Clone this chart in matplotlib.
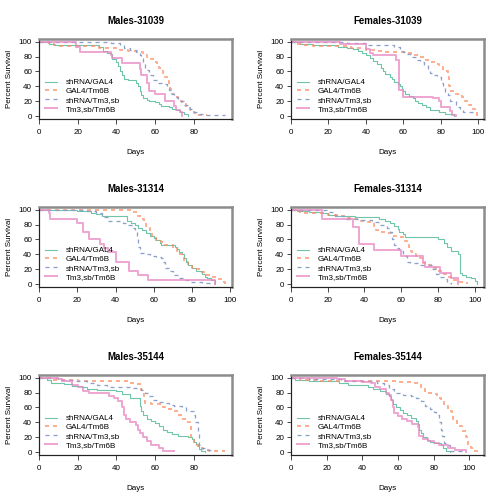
import matplotlib
matplotlib.use("Agg")
import matplotlib.pyplot as plt

plt.rcParams["font.family"] = ["Liberation Sans", "DejaVu Sans"]
plt.rcParams["lines.scale_dashes"] = False

# (day, percent survival after that day) for each curve
males_31039_shrna_gal4 = [(0, 100), (5, 97), (8, 95), (31, 93), (33, 88), (35, 85), (37, 83), (38, 77), (40, 73),
                          (41, 67), (42, 60), (43, 55), (44, 50), (46, 48), (50, 44), (51, 40), (52, 33), (53, 28),
                          (54, 24), (56, 21), (57, 20), (60, 19), (62, 16), (63, 14), (67, 12), (69, 10), (71, 8),
                          (73, 6), (75, 3), (77, 0)]
males_31039_gal4_tm6b = [(0, 100), (5, 97), (8, 95), (10, 94), (31, 92), (36, 91), (42, 89), (46, 88), (52, 86),
                         (54, 82), (56, 80), (58, 77), (60, 72), (61, 68), (62, 64), (64, 58), (65, 52), (66, 47),
                         (67, 40), (68, 36), (69, 30), (70, 26), (72, 20), (74, 16), (76, 12), (78, 8), (80, 4),
                         (81, 2), (87, 2)]
males_31039_shrna_tm3 = [(0, 100), (30, 99), (37, 98), (42, 95), (44, 92), (47, 89), (50, 86), (52, 82), (53, 78),
                         (54, 70), (55, 62), (57, 55), (59, 48), (61, 44), (64, 43), (66, 40), (67, 35), (69, 30),
                         (70, 25), (72, 20), (75, 15), (78, 10), (80, 5), (82, 3), (86, 1), (96, 1)]
males_31039_tm3_tm6b = [(0, 100), (19, 93), (21, 86), (37, 82), (38, 78), (43, 71), (52, 63), (53, 55), (56, 45),
                        (57, 33), (60, 29), (65, 20), (70, 14), (71, 8), (73, 5), (74, 0)]

females_31039_shrna_gal4 = [(0, 100), (5, 97), (12, 96), (20, 95), (25, 93), (30, 91), (33, 90), (36, 88), (38, 85),
                            (40, 82), (42, 78), (44, 74), (46, 70), (48, 65), (49, 60), (50, 56), (53, 53), (54, 50),
                            (55, 46), (57, 43), (58, 40), (59, 36), (60, 34), (61, 30), (63, 27), (65, 24), (66, 20),
                            (68, 17), (70, 15), (72, 12), (74, 8), (79, 5), (82, 3), (87, 0)]
females_31039_gal4_tm6b = [(0, 100), (3, 97), (7, 95), (12, 94), (32, 91), (40, 89), (45, 87), (50, 86), (62, 85),
                           (65, 82), (68, 79), (71, 76), (74, 72), (77, 70), (79, 68), (80, 66), (81, 60), (84, 52),
                           (84.5, 40), (85, 33), (88, 30), (91, 25), (93, 20), (95, 15), (97, 10), (98, 5), (99, 0)]
females_31039_shrna_tm3 = [(0, 100), (10, 99), (30, 98), (40, 96), (48, 95), (55, 93), (58, 88), (60, 86), (62, 83),
                           (64, 80), (67, 76), (69, 72), (71, 68), (73, 63), (74, 58), (76, 55), (78, 52), (80, 45),
                           (81, 40), (82, 32), (84, 28), (85, 20), (88, 12), (90, 10), (92, 5), (97, 0)]
females_31039_tm3_tm6b = [(0, 100), (26, 97), (40, 90), (42, 85), (44, 82), (56, 76), (57.5, 35), (60, 26), (76, 24),
                          (79, 20), (80, 12), (85, 7), (86, 2), (88, 0)]

males_31314_shrna_gal4 = [(0, 100), (20, 98), (27, 96), (30, 94), (33, 92), (46, 85), (48, 82), (50, 80), (52, 76),
                          (54, 72), (56, 69), (58, 65), (60, 62), (61, 59), (63, 55), (64, 52), (71, 50), (72, 47),
                          (73, 43), (75, 40), (76, 35), (77, 30), (78, 25), (80, 22), (82, 18), (85, 14), (87, 10),
                          (88, 8), (90, 5), (92, 0)]
males_31314_gal4_tm6b = [(0, 100), (49, 97), (52, 92), (54, 88), (55, 82), (56, 75), (58, 70), (59, 65), (61, 58),
                         (64, 56), (66, 52), (70, 48), (72, 44), (73, 40), (75, 35), (76, 30), (78, 25), (80, 22),
                         (82, 20), (84, 16), (87, 12), (90, 10), (93, 7), (95, 3), (97, 0)]
males_31314_shrna_tm3 = [(0, 100), (25, 98), (30, 95), (33, 90), (36, 85), (44, 82), (46, 80), (49, 76), (50, 70),
                         (51, 60), (52, 50), (53, 42), (56, 40), (58, 38), (61, 36), (64, 35), (65, 30), (66, 22),
                         (68, 17), (70, 12), (73, 8), (76, 5), (79, 3), (85, 2), (92, 1)]
males_31314_tm3_tm6b = [(0, 100), (5, 95), (6, 88), (20, 82), (23, 70), (26, 60), (32, 54), (34, 48), (36, 43),
                        (40, 30), (47, 18), (52, 12), (57, 6), (92, 0)]

females_31314_shrna_gal4 = [(0, 100), (3, 98), (10, 97), (17, 95), (20, 93), (25, 92), (35, 90), (48, 88), (51, 85),
                            (54, 82), (56, 78), (58, 74), (59, 70), (61, 67), (62, 63), (80, 60), (83, 55), (85, 50),
                            (87, 45), (91, 40), (92, 15), (93, 12), (95, 10), (98, 8), (100, 4), (101, 0)]
females_31314_gal4_tm6b = [(0, 100), (2, 98), (5, 96), (12, 95), (20, 93), (25, 91), (30, 89), (35, 87), (38, 85),
                           (42, 83), (45, 78), (46, 72), (48, 70), (52, 68), (55, 65), (57, 63), (62, 58), (63, 52),
                           (64, 45), (66, 40), (68, 38), (70, 35), (72, 28), (75, 25), (78, 22), (80, 18), (82, 14),
                           (85, 10), (88, 6), (92, 3), (96, 0)]
females_31314_shrna_tm3 = [(0, 100), (20, 97), (24, 92), (30, 88), (38, 86), (44, 84), (48, 80), (52, 75), (54, 70),
                           (55, 60), (56, 52), (57, 48), (59, 45), (61, 38), (63, 30), (65, 28), (69, 26), (73, 25),
                           (77, 20), (79, 14), (81, 10), (83, 7), (85, 2), (87, 0)]
females_31314_tm3_tm6b = [(0, 100), (17, 88), (34, 77), (37, 54), (45, 46), (60, 38), (72, 30), (73, 23), (81, 15),
                          (87, 8), (91, 0)]

males_35144_shrna_gal4 = [(0, 100), (4, 97), (6, 93), (13, 91), (17, 89), (22, 87), (25, 85), (30, 84), (37, 83),
                          (40, 82), (43, 78), (47, 72), (52, 62), (53, 55), (54, 50), (56, 45), (58, 42), (60, 39),
                          (62, 35), (64, 30), (66, 27), (69, 24), (72, 22), (77, 20), (79, 17), (80, 14), (81, 11),
                          (82, 8), (83, 4), (84, 2), (86, 0)]
males_35144_gal4_tm6b = [(0, 100), (7, 97), (20, 96), (46, 93), (50, 91), (53, 84), (54, 78), (54.5, 70), (55, 66),
                         (58, 65), (63, 60), (65, 58), (70, 55), (72, 50), (74, 45), (76, 40), (78, 35), (78.5, 20),
                         (80, 10), (82, 5), (85, 3), (88, 2), (96, 1)]
males_35144_shrna_tm3 = [(0, 100), (10, 97), (18, 96), (25, 93), (30, 90), (35, 88), (40, 87), (48, 86), (53, 84),
                         (55, 80), (57, 75), (59, 70), (61, 67), (64, 66), (67, 63), (70, 62), (74, 60), (76, 55),
                         (80, 50), (80.5, 40), (82, 28), (83, 10), (84, 5), (86, 3), (89, 0)]
males_35144_tm3_tm6b = [(0, 100), (10, 98), (12, 96), (17, 90), (20, 88), (23, 82), (26, 79), (36, 76), (39, 72),
                        (41, 68), (43, 60), (44, 50), (45, 45), (47, 40), (50, 36), (51, 30), (52, 25), (54, 20),
                        (56, 15), (58, 10), (62, 5), (64, 2), (68, 1), (70, 1)]

females_35144_shrna_gal4 = [(0, 100), (2, 97), (10, 96), (20, 95), (27, 93), (32, 90), (43, 88), (46, 85), (50, 82),
                            (53, 78), (55, 75), (56, 70), (57, 65), (59, 60), (61, 56), (63, 53), (65, 50), (67, 46),
                            (70, 42), (71, 38), (72, 30), (73, 25), (74, 20), (76, 16), (78, 14), (80, 12), (84, 10),
                            (85, 5), (87, 2), (89, 0)]
females_35144_gal4_tm6b = [(0, 100), (5, 97), (15, 96), (40, 95), (60, 94), (68, 93), (71, 90), (73, 85), (75, 80),
                           (80, 78), (82, 72), (84, 70), (86, 62), (88, 55), (90, 50), (91, 45), (93, 35), (96, 28),
                           (98, 20), (99, 10), (101, 5), (102, 2), (104, 0)]
females_35144_shrna_tm3 = [(0, 100), (10, 98), (28, 96), (40, 95), (48, 93), (52, 90), (55, 85), (58, 80), (63, 77),
                           (67, 75), (70, 72), (73, 68), (75, 62), (78, 58), (80, 54), (81, 50), (83, 40), (84, 30),
                           (84.5, 22), (86, 12), (88, 10), (89, 2), (98, 1)]
females_35144_tm3_tm6b = [(0, 100), (26, 98), (30, 96), (40, 94), (45, 93), (47, 88), (50, 85), (53, 80), (55, 77),
                          (56, 70), (57, 60), (58, 52), (60, 48), (62, 45), (65, 42), (68, 38), (71, 33), (72, 22),
                          (74, 18), (77, 15), (80, 12), (83, 10), (88, 5), (92, 3), (98, 0)]

panel_titles = ["Males-31039", "Females-31039", "Males-31314", "Females-31314", "Males-35144", "Females-35144"]
series_labels = ["shRNA/GAL4", "GAL4/Tm6B", "shRNA/Tm3,sb", "Tm3,sb/Tm6B"]
panel_curves = [
    [males_31039_shrna_gal4, males_31039_gal4_tm6b, males_31039_shrna_tm3, males_31039_tm3_tm6b],
    [females_31039_shrna_gal4, females_31039_gal4_tm6b, females_31039_shrna_tm3, females_31039_tm3_tm6b],
    [males_31314_shrna_gal4, males_31314_gal4_tm6b, males_31314_shrna_tm3, males_31314_tm3_tm6b],
    [females_31314_shrna_gal4, females_31314_gal4_tm6b, females_31314_shrna_tm3, females_31314_tm3_tm6b],
    [males_35144_shrna_gal4, males_35144_gal4_tm6b, males_35144_shrna_tm3, males_35144_tm3_tm6b],
    [females_35144_shrna_gal4, females_35144_gal4_tm6b, females_35144_shrna_tm3, females_35144_tm3_tm6b],
]

# line look per series (Set2 colours)
colors = ["#66C2A5", "#FC8D62", "#8DA0CB", "#E78AC3"]
widths = [1.1, 2.0, 1.3, 2.0]
dashes = [None, (4, 4), (4, 4), None]
alphas = [0.95, 0.7, 1.0, 0.75]

W, H = 504, 504
fig = plt.figure(figsize=(7, 7), dpi=72)

for i, (title, curves) in enumerate(zip(panel_titles, panel_curves)):
    row, col = divmod(i, 2)
    left = col * 252 + 39
    top = row * 168 + 38.7
    ax = fig.add_axes([left / W, 1 - (top + 80.3) / H, 193 / W, 80.3 / H])

    tmax = 0
    for j, pts in enumerate(curves):
        t = [p[0] for p in pts]
        s = [p[1] for p in pts]
        tmax = max(tmax, t[-1])
        line, = ax.step(t, s, where="post", color=colors[j], lw=widths[j], alpha=alphas[j],
                        label=series_labels[j])
        if dashes[j] is not None:
            line.set_dashes(dashes[j])

    ax.set_xlim(0, tmax * 1.04)
    ax.set_ylim(-4, 104)
    ax.set_xticks(range(0, int(tmax * 1.04) + 1, 20))
    ax.set_yticks([0, 20, 40, 60, 80, 100])
    ax.tick_params(axis="x", length=5, pad=5, labelsize=8, color="#222222")
    ax.tick_params(axis="y", length=4, pad=3, labelsize=8, color="#222222")

    for side in ["top", "right"]:
        ax.spines[side].set_color("#8c8c8c")
        ax.spines[side].set_linewidth(2.5)
    for side in ["left", "bottom"]:
        ax.spines[side].set_color("#222222")
        ax.spines[side].set_linewidth(1.2)

    ax.set_title(title, fontsize=9.6, fontweight="bold", pad=15)
    ax.set_xlabel("Days", fontsize=8, labelpad=13)
    ax.set_ylabel("Percent Survival", fontsize=8, labelpad=6)

    ax.legend(loc="center left", bbox_to_anchor=(0.031, 0.288), frameon=False, fontsize=8,
              handlelength=1.5, handletextpad=1.1, labelspacing=0.15, borderpad=0, borderaxespad=0)

fig.savefig("out.png", dpi=72)
